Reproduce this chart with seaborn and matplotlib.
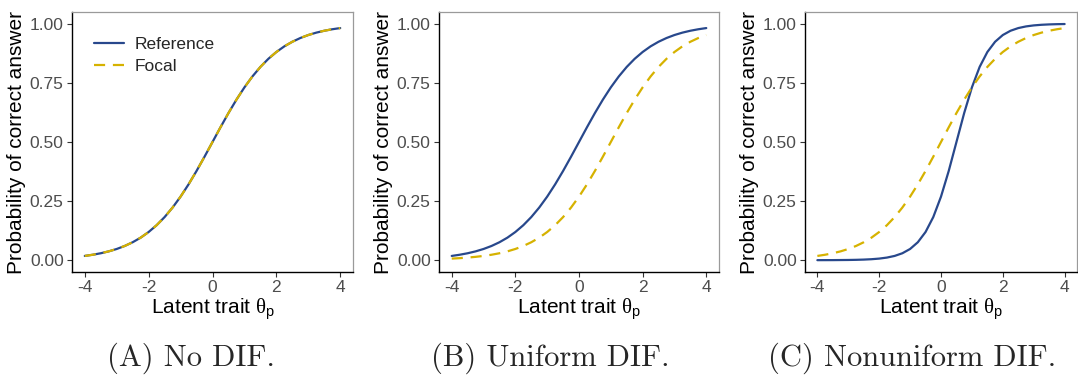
import numpy as np
import pandas as pd
import matplotlib
matplotlib.use("Agg")
import matplotlib.pyplot as plt
import seaborn as sns

theta = [-4.0, -3.75, -3.5, -3.25, -3.0, -2.75, -2.5, -2.25, -2.0, -1.75, -1.5, -1.25,
         -1.0, -0.75, -0.5, -0.25, 0.0, 0.25, 0.5, 0.75, 1.0, 1.25, 1.5, 1.75,
         2.0, 2.25, 2.5, 2.75, 3.0, 3.25, 3.5, 3.75, 4.0]

# Panel A: No DIF
a_reference = [0.0180, 0.0230, 0.0293, 0.0373, 0.0474, 0.0601, 0.0759, 0.0953, 0.1192, 0.1480,
               0.1824, 0.2227, 0.2689, 0.3208, 0.3775, 0.4378, 0.5000, 0.5622, 0.6225, 0.6792,
               0.7311, 0.7773, 0.8176, 0.8520, 0.8808, 0.9047, 0.9241, 0.9399, 0.9526, 0.9627,
               0.9707, 0.9770, 0.9820]
a_focal = [0.0180, 0.0230, 0.0293, 0.0373, 0.0474, 0.0601, 0.0759, 0.0953, 0.1192, 0.1480,
           0.1824, 0.2227, 0.2689, 0.3208, 0.3775, 0.4378, 0.5000, 0.5622, 0.6225, 0.6792,
           0.7311, 0.7773, 0.8176, 0.8520, 0.8808, 0.9047, 0.9241, 0.9399, 0.9526, 0.9627,
           0.9707, 0.9770, 0.9820]

# Panel B: Uniform DIF
b_reference = [0.0180, 0.0230, 0.0293, 0.0373, 0.0474, 0.0601, 0.0759, 0.0953, 0.1192, 0.1480,
               0.1824, 0.2227, 0.2689, 0.3208, 0.3775, 0.4378, 0.5000, 0.5622, 0.6225, 0.6792,
               0.7311, 0.7773, 0.8176, 0.8520, 0.8808, 0.9047, 0.9241, 0.9399, 0.9526, 0.9627,
               0.9707, 0.9770, 0.9820]
b_focal = [0.0067, 0.0086, 0.0110, 0.0141, 0.0180, 0.0230, 0.0293, 0.0373, 0.0474, 0.0601,
           0.0759, 0.0953, 0.1192, 0.1480, 0.1824, 0.2227, 0.2689, 0.3208, 0.3775, 0.4378,
           0.5000, 0.5622, 0.6225, 0.6792, 0.7311, 0.7773, 0.8176, 0.8520, 0.8808, 0.9047,
           0.9241, 0.9399, 0.9526]

# Panel C: Nonuniform DIF
c_reference = [0.0001, 0.0002, 0.0003, 0.0006, 0.0009, 0.0015, 0.0025, 0.0041, 0.0067, 0.0110,
               0.0180, 0.0293, 0.0474, 0.0759, 0.1192, 0.1824, 0.2689, 0.3775, 0.5000, 0.6225,
               0.7311, 0.8176, 0.8808, 0.9241, 0.9526, 0.9707, 0.9820, 0.9890, 0.9933, 0.9959,
               0.9975, 0.9985, 0.9991]
c_focal = [0.0180, 0.0230, 0.0293, 0.0373, 0.0474, 0.0601, 0.0759, 0.0953, 0.1192, 0.1480,
           0.1824, 0.2227, 0.2689, 0.3208, 0.3775, 0.4378, 0.5000, 0.5622, 0.6225, 0.6792,
           0.7311, 0.7773, 0.8176, 0.8520, 0.8808, 0.9047, 0.9241, 0.9399, 0.9526, 0.9627,
           0.9707, 0.9770, 0.9820]

captions = ["(A) No DIF.", "(B) Uniform DIF.", "(C) Nonuniform DIF."]
groups = ["Reference", "Focal"]
x_ticks = [-4, -2, 0, 2, 4]
y_ticks = [0.00, 0.25, 0.50, 0.75, 1.00]
y_ticklabels = ["0.00", "0.25", "0.50", "0.75", "1.00"]

sns.set_theme(style="white")
plt.rcParams["font.family"] = ["Liberation Sans", "DejaVu Sans"]
plt.rcParams["mathtext.fontset"] = "custom"
plt.rcParams["mathtext.rm"] = "Liberation Sans"
plt.rcParams["mathtext.it"] = "Liberation Serif"

BLUE = "#28488C"
GOLD = "#D6B200"

fig = plt.figure(figsize=(10.78, 3.80), dpi=100)
lefts = [72, 439, 805]
widths = [281, 280, 272]
top_px, bottom_px = 12, 272
W, H = 1078, 380

panels = [(a_reference, a_focal), (b_reference, b_focal), (c_reference, c_focal)]
caption_x = [191, 550, 912]

for i, (ref, foc) in enumerate(panels):
    ax = fig.add_axes([lefts[i] / W, 1 - bottom_px / H, widths[i] / W, (bottom_px - top_px) / H])
    df = pd.DataFrame({
        "theta": theta * 2,
        "p": list(ref) + list(foc),
        "group": [groups[0]] * len(theta) + [groups[1]] * len(theta),
    })
    sns.lineplot(data=df[df.group == "Reference"], x="theta", y="p", ax=ax,
                 color=BLUE, lw=1.6, label="Reference", legend=False)
    sns.lineplot(data=df[df.group == "Focal"], x="theta", y="p", ax=ax,
                 color=GOLD, lw=1.6, label="Focal", legend=False)
    ax.lines[1].set_dashes([5, 3.5])
    ax.set_xlim(-4.4, 4.4)
    ax.set_ylim(-0.05, 1.05)
    ax.set_xticks(x_ticks)
    ax.set_xticklabels([str(t) for t in x_ticks])
    ax.set_yticks(y_ticks)
    ax.set_yticklabels(y_ticklabels)
    ax.tick_params(axis="both", which="major", length=3.5, width=0.8, color="#333333",
                   labelcolor="#4D4D4D", labelsize=12.5, pad=2.5, bottom=True, left=True)
    ax.set_xlabel(r"Latent trait $\theta_\mathrm{p}$", fontsize=15, color="black", labelpad=1)
    ax.set_ylabel("Probability of correct answer", fontsize=15, color="black", labelpad=3)
    for s in ["left", "bottom"]:
        ax.spines[s].set_color("black")
        ax.spines[s].set_linewidth(1.0)
    for s in ["top", "right"]:
        ax.spines[s].set_color("#9A9A9A")
        ax.spines[s].set_linewidth(0.9)
    if i == 0:
        ax.legend(loc="upper left", bbox_to_anchor=(0.035, 0.95), frameon=False, fontsize=12.5,
                  handlelength=1.75, handletextpad=0.6, labelspacing=0.4, borderaxespad=0.3)
    fig.text(caption_x[i] / W, 1 - 358 / H, captions[i], family="cmr10", fontsize=22,
             ha="center", va="center")

fig.savefig("out.png", dpi=100)
